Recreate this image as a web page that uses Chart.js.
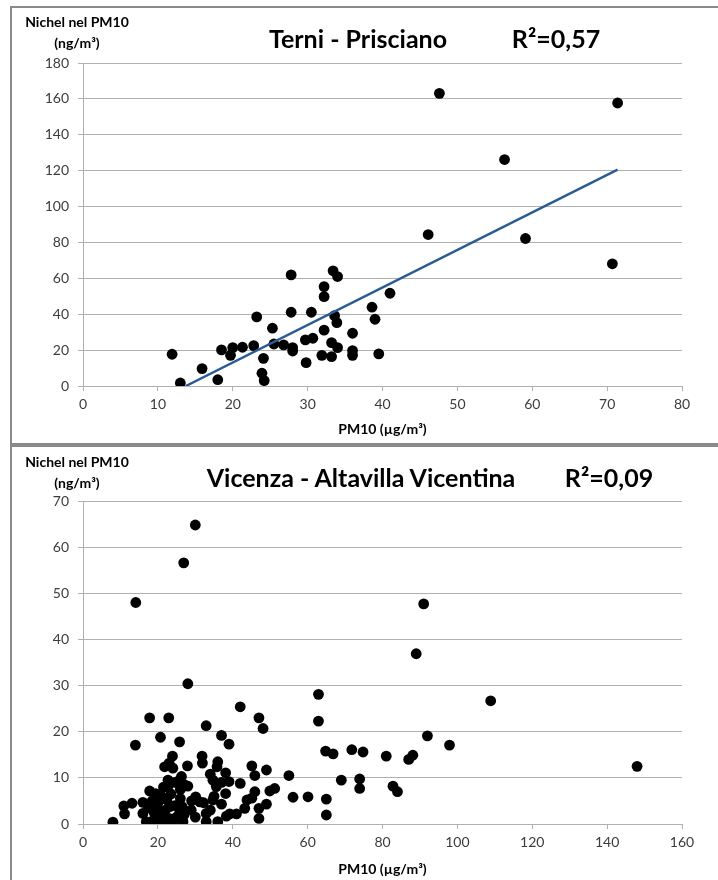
<!DOCTYPE html>
<html>
<head>
<meta charset="utf-8">
<script src="https://cdn.jsdelivr.net/npm/chart.js@4.4.1/dist/chart.umd.min.js"></script>
<style>
  html, body { margin: 0; padding: 0; background: #fff; }
  body { width: 718px; height: 880px; position: relative; overflow: hidden; font-family: Lato, "Open Sans", sans-serif; }
  .panel { position: absolute; left: 0; width: 718px; height: 440px; }
  .frame { position: absolute; border: 2px solid #8a8a8a; box-sizing: border-box; }
  .panel canvas { position: absolute; left: 0; top: 0; }
  .txt { position: absolute; transform: translate(-50%, -50%); white-space: nowrap; color: #000; font-weight: bold; }
  .ylab { font-size: 14px; line-height: 1; }
  .title { font-size: 25px; line-height: 1; }
</style>
</head>
<body>

<div class="frame" style="left:10px; top:6px; width:760px; height:439px;"></div>
<div class="frame" style="left:10px; top:445px; width:760px; height:500px;"></div>

<div class="panel" style="top:0;">
  <canvas id="terni" width="718" height="440"></canvas>
  <div class="txt ylab" style="left:77px; top:22px;">Nichel nel PM10</div>
  <div class="txt ylab" style="left:77px; top:43px;">(ng/m³)</div>
  <div class="txt title" style="left:358px; top:38px;">Terni - Prisciano</div>
  <div class="txt title" style="left:556px; top:38px;">R²=0,57</div>
</div>

<div class="panel" style="top:440px;">
  <canvas id="vicenza" width="718" height="440"></canvas>
  <div class="txt ylab" style="left:77px; top:22px;">Nichel nel PM10</div>
  <div class="txt ylab" style="left:77px; top:43px;">(ng/m³)</div>
  <div class="txt title" style="left:361px; top:37px;">Vicenza - Altavilla Vicentina</div>
  <div class="txt title" style="left:609px; top:37px;">R²=0,09</div>
</div>

<script>
// Terni - Prisciano: PM10 (µg/m³) vs nickel in PM10 (ng/m³)
const terniPM10 = [
  11.9, 13.0, 15.9, 18.0, 18.5, 19.7, 20.0, 21.3, 22.8, 23.2,
  23.9, 24.2, 24.1, 25.3, 25.5, 26.8, 27.8, 27.8, 28.0, 28.0,
  29.8, 29.7, 30.7, 30.5, 32.2, 32.2, 32.2, 31.9, 33.2, 33.2,
  33.4, 34.0, 33.6, 33.9, 34.0, 36.0, 36.0, 36.0, 38.6, 39.0,
  39.5, 41.0, 46.1, 47.6, 56.3, 59.1, 70.7, 71.4
];
const terniNichel = [
  17.7, 1.7, 9.7, 3.5, 20.1, 17.1, 21.4, 21.6, 22.5, 38.5,
  7.1, 3.0, 15.4, 32.2, 23.4, 22.9, 61.9, 41.1, 21.4, 19.5,
  13.0, 25.7, 26.6, 41.1, 55.4, 49.8, 31.1, 17.1, 16.4, 24.2,
  64.2, 61.0, 39.2, 35.3, 21.4, 29.4, 19.7, 17.1, 43.9, 37.2,
  17.9, 51.7, 84.4, 163.1, 126.2, 82.2, 68.1, 157.7
];
const terniXTicks = [0, 10, 20, 30, 40, 50, 60, 70, 80];
const terniYTicks = [0, 20, 40, 60, 80, 100, 120, 140, 160, 180];
// linear trend line (R² = 0,57)
const terniTrendSlope = 2.09;
const terniTrendIntercept = -28.7;

// Vicenza - Altavilla Vicentina
const vicenzaPM10 = [
  30.0, 26.9, 14.1, 28.0, 91.0, 89.0, 108.9, 92.0, 97.9, 71.8,
  74.8, 81.0, 87.0, 88.1, 148.0, 69.0, 73.9, 73.9, 82.8, 84.0,
  8.0, 10.9, 11.1, 13.1, 14.0, 17.8, 16.0, 16.0, 16.9, 17.8,
  19.4, 20.7, 19.6, 20.5, 19.6, 21.4, 21.8, 22.9, 22.7, 23.0,
  23.9, 24.0, 22.4, 23.2, 22.7, 24.0, 22.2, 25.8, 25.8, 26.5,
  26.7, 27.2, 28.0, 27.9, 26.3, 25.4, 25.8, 28.9, 30.1, 31.2,
  32.9, 31.8, 31.9, 32.9, 32.9, 32.2, 34.0, 34.7, 34.7, 36.0,
  35.8, 35.6, 37.0, 37.0, 36.0, 38.1, 38.1, 39.0, 39.0, 38.3,
  39.2, 41.0, 42.0, 42.0, 43.2, 43.8, 45.1, 45.1, 45.9, 45.9,
  47.0, 48.1, 47.0, 47.0, 49.0, 49.0, 49.9, 51.2, 55.0, 56.1,
  60.1, 62.9, 62.9, 64.8, 66.8, 65.0, 65.0,
  18.5, 19.0, 20.0, 21.0, 21.0, 22.0, 23.0, 23.5, 24.5, 25.0,
  26.0, 27.0, 21.5, 24.5, 19.0, 17.5, 29.0, 30.0, 34.0, 35.0,
  37.0, 26.0
];
const vicenzaNichel = [
  64.8, 56.6, 48.0, 30.4, 47.7, 36.9, 26.7, 19.1, 17.1, 16.1,
  15.6, 14.7, 14.0, 14.9, 12.5, 9.5, 9.75, 7.7, 8.2, 7.0,
  0.4, 3.9, 2.2, 4.5, 17.1, 23.0, 4.7, 2.3, 0.5, 7.15,
  6.6, 18.8, 3.75, 1.7, 0.5, 0.5, 12.4, 23.0, 9.5, 13.2,
  14.7, 12.1, 5.2, 3.75, 8.2, 0.5, 0.5, 17.8, 9.5, 3.75,
  0.5, 8.45, 8.2, 12.6, 10.3, 3.75, 2.3, 3.0, 5.9, 4.8,
  21.3, 14.7, 13.2, 2.3, 0.5, 4.6, 10.8, 9.5, 5.2, 13.5,
  12.4, 8.1, 19.2, 4.3, 0.5, 6.6, 11.1, 17.3, 9.2, 1.7,
  2.2, 2.2, 25.4, 8.8, 3.4, 5.2, 12.6, 5.6, 10.5, 7.0,
  23.0, 20.7, 3.4, 1.2, 11.7, 4.3, 7.15, 7.7, 10.5, 5.8,
  5.9, 28.1, 22.3, 15.8, 15.2, 5.4, 1.95,
  5.0, 1.0, 4.5, 6.0, 2.5, 3.0, 1.2, 6.5, 4.0, 1.5,
  5.5, 2.0, 8.0, 9.0, 2.5, 3.5, 5.0, 1.5, 3.0, 6.0,
  9.0, 7.5
];
const vicenzaXTicks = [0, 20, 40, 60, 80, 100, 120, 140, 160];
const vicenzaYTicks = [0, 10, 20, 30, 40, 50, 60, 70];

const GRID = '#b0b0b0';
const TICK_FONT = { family: 'Lato, "Open Sans", sans-serif', size: 14 };
const TICK_COLOR = '#3c3c3c';

function pairs(xs, ys) {
  return xs.map((x, i) => ({ x: x, y: ys[i] }));
}

function useTicks(values) {
  return function (scale) {
    scale.ticks = values.map(v => ({ value: v }));
  };
}

function buildChart(id, opts) {
  const datasets = [{
    type: 'scatter',
    data: pairs(opts.xs, opts.ys),
    pointRadius: 5.4,
    pointHoverRadius: 5.4,
    pointBackgroundColor: '#000',
    pointBorderWidth: 0,
    order: 1
  }];
  if (opts.trend) {
    datasets.push({
      type: 'line',
      data: opts.trend,
      borderColor: '#2b5b94',
      borderWidth: 2.5,
      pointRadius: 0,
      fill: false,
      order: 0
    });
  }
  return new Chart(document.getElementById(id), {
    type: 'scatter',
    data: { datasets: datasets },
    options: {
      responsive: false,
      animation: false,
      devicePixelRatio: 1,
      layout: { padding: { left: 0, right: 36, top: opts.top, bottom: 0 } },
      plugins: { legend: { display: false }, tooltip: { enabled: false } },
      scales: {
        x: {
          type: 'linear',
          min: opts.xTicks[0],
          max: opts.xTicks[opts.xTicks.length - 1],
          afterBuildTicks: useTicks(opts.xTicks),
          afterFit: s => { s.height = opts.xAxisHeight; },
          grid: { drawOnChartArea: false, drawTicks: true, tickLength: 5, color: GRID },
          border: { color: GRID, width: 1 },
          ticks: { font: TICK_FONT, color: TICK_COLOR, padding: 5, maxRotation: 0 },
          title: {
            display: true,
            text: 'PM10 (µg/m³)',
            color: '#000',
            font: { family: 'Lato, "Open Sans", sans-serif', size: 14, weight: 'bold' },
            padding: { top: 0, bottom: 2 }
          }
        },
        y: {
          type: 'linear',
          min: opts.yTicks[0],
          max: opts.yTicks[opts.yTicks.length - 1],
          afterBuildTicks: useTicks(opts.yTicks),
          afterFit: s => { s.width = 83; },
          grid: { drawOnChartArea: true, drawTicks: true, tickLength: 5, color: GRID },
          border: { color: GRID, width: 1 },
          ticks: { font: TICK_FONT, color: TICK_COLOR, padding: 9 }
        }
      }
    }
  });
}

// trend line spans the data range, clipped where it leaves the plot floor
const trendStart = Math.max(Math.min(...terniPM10), -terniTrendIntercept / terniTrendSlope);
const trendEnd = Math.max(...terniPM10);
const terniTrend = [trendStart, trendEnd].map(x => ({ x: x, y: terniTrendSlope * x + terniTrendIntercept }));

buildChart('terni', {
  xs: terniPM10, ys: terniNichel,
  xTicks: terniXTicks, yTicks: terniYTicks,
  trend: terniTrend,
  top: 63, xAxisHeight: 54
});

buildChart('vicenza', {
  xs: vicenzaPM10, ys: vicenzaNichel,
  xTicks: vicenzaXTicks, yTicks: vicenzaYTicks,
  top: 61, xAxisHeight: 56
});
</script>
</body>
</html>
